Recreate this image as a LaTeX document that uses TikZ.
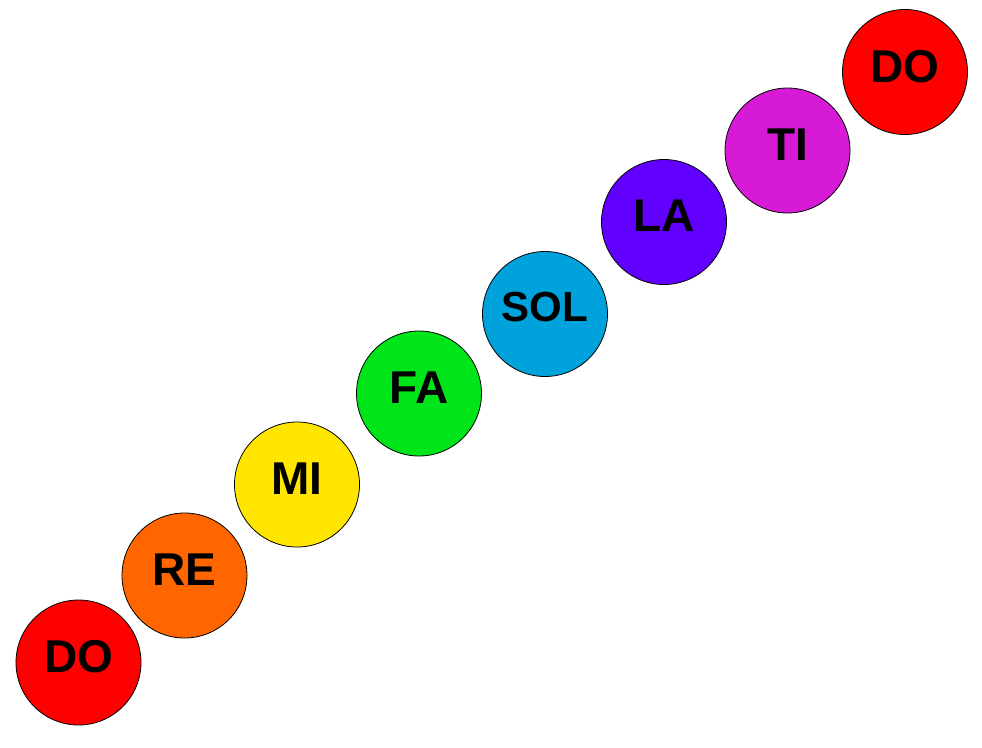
\documentclass[tikz,border=0pt]{standalone}
\usepackage{fontspec}
\setmainfont{Liberation Sans}
\usepackage{xcolor}
\usepackage{tikz}
\definecolor{solfred}{HTML}{FF0000}
\definecolor{solforange}{HTML}{FF6600}
\definecolor{solfyellow}{HTML}{FFE500}
\definecolor{solfgreen}{HTML}{00E51A}
\definecolor{solfblue}{HTML}{00A2DB}
\definecolor{solfviolet}{HTML}{6200FF}
\definecolor{solfmagenta}{HTML}{D61AD6}
\tikzset{
  solfnote/.style={
    circle, draw=black, line width=0.6pt,
    minimum size=93.75pt, inner sep=0pt,
    font=\fontsize{34.5}{36}\selectfont\bfseries, text depth=9pt
  },
  solfnotesmall/.style={solfnote,font=\fontsize{31.5}{33}\selectfont\bfseries,text depth=10.5pt}
}

\begin{document}
\begin{tikzpicture}[x=0.75pt,y=-0.75pt]
  \useasboundingbox (0,0) rectangle (982,747);
  \node[solfnote,fill=solfred]        (dolow)  at (78.5,662.5) {DO};
  \node[solfnote,fill=solforange]     (re)     at (184.5,575.5) {RE};
  \node[solfnote,fill=solfyellow]     (mi)     at (297,484.5)  {MI};
  \node[solfnote,fill=solfgreen]      (fa)     at (419,393.5)  {FA};
  \node[solfnotesmall,fill=solfblue]  (sol)    at (545,314)    {SOL};
  \node[solfnote,fill=solfviolet]     (la)     at (664,222)    {LA};
  \node[solfnote,fill=solfmagenta]    (ti)     at (787.5,150.5) {TI};
  \node[solfnote,fill=solfred]        (dohigh) at (905,72)     {DO};
\end{tikzpicture}
\end{document}
